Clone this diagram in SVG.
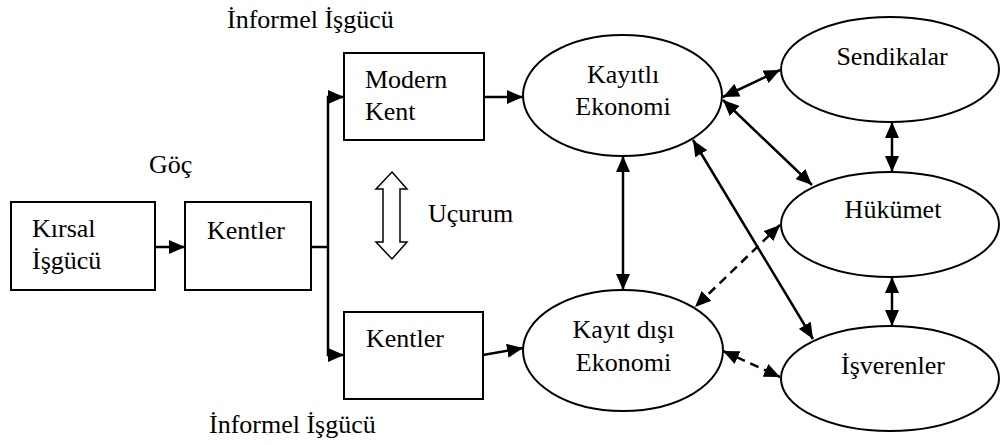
<svg xmlns="http://www.w3.org/2000/svg" width="1001" height="445" viewBox="0 0 1001 445">
<style>
  .box{fill:#fff;stroke:#000;stroke-width:2}
  .t{font-family:'Liberation Serif','Times New Roman',serif;font-size:26px;fill:#000}
  .m{text-anchor:middle}
  .c{fill:none;stroke:#000;stroke-width:2.5}
  .d{stroke-dasharray:9,6}
  .one{marker-end:url(#ah)}
  .two{marker-start:url(#ah);marker-end:url(#ah)}
</style>
<defs>
  <marker id="ah" markerUnits="userSpaceOnUse" markerWidth="16" markerHeight="14" refX="16" refY="7" orient="auto-start-reverse">
    <path d="M0,0 L16,7 L0,14 z" fill="#000"/>
  </marker>
</defs>
<rect width="1001" height="445" fill="#fff"/>

<g id="labels">
  <text class="t" x="227" y="28">İnformel İşgücü</text>
  <text class="t" x="209" y="433">İnformel İşgücü</text>
  <text class="t" x="149" y="173">Göç</text>
  <text class="t" x="428" y="222">Uçurum</text>
</g>

<g id="kirsal">
  <rect class="box" x="11" y="202" width="144" height="88"/>
  <text class="t" x="32" y="237">Kırsal</text>
  <text class="t" x="32" y="269">İşgücü</text>
</g>
<g id="kentler1">
  <rect class="box" x="185" y="202" width="126" height="88"/>
  <text class="t" x="207" y="239">Kentler</text>
</g>
<g id="modernkent">
  <rect class="box" x="344" y="53" width="140" height="87"/>
  <text class="t" x="365" y="88">Modern</text>
  <text class="t" x="365" y="120">Kent</text>
</g>
<g id="kentler2">
  <rect class="box" x="344" y="312" width="139" height="87"/>
  <text class="t" x="366" y="347">Kentler</text>
</g>
<g id="ucurum">
  <polygon points="392,172 407,189 400,189 400,242 407,242 392,259 376,242 383,242 383,189 376,189" fill="#fff" stroke="#000" stroke-width="1.5"/>
</g>
<g id="kayitli">
  <ellipse class="box" cx="622.5" cy="95.5" rx="99.5" ry="60.5"/>
  <text class="t m" x="623" y="83">Kayıtlı</text>
  <text class="t m" x="623" y="115">Ekonomi</text>
</g>
<g id="kayitdisi">
  <ellipse class="box" cx="623" cy="350.5" rx="100" ry="60.5"/>
  <text class="t m" x="623.5" y="338">Kayıt dışı</text>
  <text class="t m" x="623.5" y="371">Ekonomi</text>
</g>
<g id="sendikalar">
  <ellipse class="box" cx="890" cy="69.5" rx="109" ry="52.5"/>
  <text class="t m" x="892" y="65">Sendikalar</text>
</g>
<g id="hukumet">
  <ellipse class="box" cx="890" cy="224.5" rx="109" ry="52.5"/>
  <text class="t m" x="893" y="218">Hükümet</text>
</g>
<g id="isverenler">
  <ellipse class="box" cx="890" cy="378.5" rx="109" ry="52.5"/>
  <text class="t m" x="893" y="374">İşverenler</text>
</g>

<g id="connectors">
  <path class="c one" d="M155,247 H185"/>
  <path class="c" d="M311,247 H328"/>
  <path class="c two" d="M344,97 H328 V355 H344"/>
  <path class="c one" d="M484,97 H523"/>
  <path class="c one" d="M483,355 L523,348"/>
  <path class="c two" d="M623,156 V290"/>
  <path class="c two" d="M723,97 L780,70"/>
  <path class="c two" d="M723,100 L812,185"/>
  <path class="c two" d="M693,140 L813,339"/>
  <path class="c two" d="M892,122 V172"/>
  <path class="c two" d="M892,277 V326"/>
  <path class="c d two" d="M780,225 L695,307"/>
  <path class="c d two" d="M723,351 L780,377"/>
</g>
</svg>
